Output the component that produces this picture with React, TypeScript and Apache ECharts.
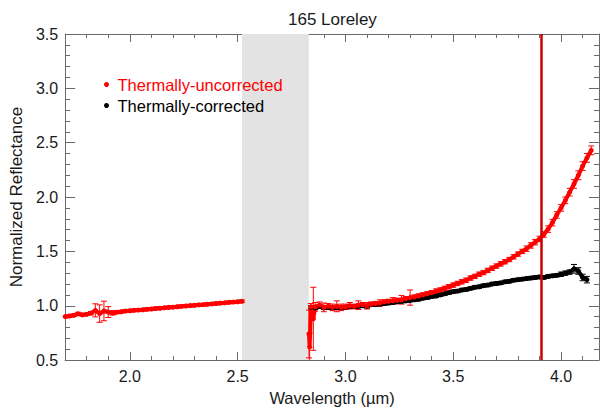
import React, { useEffect, useRef } from 'react';
import * as echarts from 'echarts';

const TITLE = '165 Loreley';
const X_NAME = 'Wavelength (µm)';
const Y_NAME = 'Normalized Reflectance';
const NAME_UNCORR = 'Thermally-uncorrected';
const NAME_CORR = 'Thermally-corrected';

const X_MIN = 1.7;
const X_MAX = 4.176;
const Y_MIN = 0.5;
const Y_MAX = 3.5;
const X_MAJOR = [2.0, 2.5, 3.0, 3.5, 4.0];
const X_MINOR = [1.8, 1.9, 2.1, 2.2, 2.3, 2.4, 2.6, 2.7, 2.8, 2.9, 3.1, 3.2, 3.3, 3.4, 3.6, 3.7, 3.8, 3.9, 4.1];

// masked telluric band and the spurious spike
const BAND = [2.52, 2.83];
const SPIKE_X = 3.906;

// [wavelength, reflectance, error]
const redSeg1: number[][] = [
  [1.70, 0.900, 0.012], [1.72, 0.906, 0.012], [1.74, 0.912, 0.012], [1.76, 0.926, 0.014],
  [1.78, 0.916, 0.012], [1.80, 0.921, 0.012], [1.82, 0.932, 0.015], [1.84, 0.958, 0.06],
  [1.86, 0.928, 0.08], [1.88, 0.952, 0.09], [1.90, 0.942, 0.05], [1.92, 0.934, 0.02],
  [1.94, 0.941, 0.014], [1.96, 0.945, 0.012], [1.98, 0.951, 0.012], [2.00, 0.954, 0.012],
  [2.02, 0.958, 0.012], [2.04, 0.960, 0.012], [2.06, 0.963, 0.012], [2.08, 0.967, 0.012],
  [2.10, 0.970, 0.012], [2.12, 0.975, 0.012], [2.14, 0.977, 0.012], [2.16, 0.981, 0.012],
  [2.18, 0.985, 0.012], [2.20, 0.987, 0.012], [2.22, 0.991, 0.012], [2.24, 0.995, 0.012],
  [2.26, 0.998, 0.012], [2.28, 1.001, 0.012], [2.30, 1.004, 0.012], [2.32, 1.008, 0.012],
  [2.34, 1.010, 0.012], [2.36, 1.014, 0.012], [2.38, 1.017, 0.012], [2.40, 1.021, 0.012],
  [2.42, 1.024, 0.012], [2.44, 1.027, 0.012], [2.46, 1.031, 0.012], [2.48, 1.034, 0.012],
  [2.50, 1.037, 0.012], [2.52, 1.041, 0.012],
];

const redSeg2: number[][] = [
  [2.831, 0.74, 0.22], [2.834, 0.62, 0.13], [2.84, 0.99, 0.03], [2.851, 0.88, 0.29],
  [2.86, 0.99, 0.04], [2.88, 1.005, 0.03], [2.90, 0.985, 0.04], [2.92, 0.995, 0.025],
  [2.94, 0.985, 0.03], [2.96, 0.995, 0.05], [2.98, 0.985, 0.03], [3.00, 0.99, 0.025],
  [3.02, 1.00, 0.03], [3.04, 0.995, 0.02], [3.06, 1.005, 0.04], [3.08, 1.01, 0.02],
  [3.10, 1.00, 0.03], [3.12, 1.015, 0.02], [3.14, 1.02, 0.02], [3.16, 1.025, 0.03],
  [3.18, 1.035, 0.02], [3.20, 1.04, 0.02], [3.22, 1.045, 0.03], [3.24, 1.05, 0.02],
  [3.26, 1.055, 0.04], [3.28, 1.065, 0.02], [3.30, 1.075, 0.07], [3.32, 1.08, 0.02],
  [3.34, 1.09, 0.02], [3.36, 1.10, 0.02], [3.38, 1.11, 0.02], [3.40, 1.12, 0.02],
  [3.42, 1.135, 0.02], [3.44, 1.145, 0.02], [3.46, 1.16, 0.02], [3.48, 1.175, 0.02],
  [3.50, 1.19, 0.02], [3.52, 1.205, 0.02], [3.54, 1.22, 0.02], [3.56, 1.235, 0.02],
  [3.58, 1.255, 0.02], [3.60, 1.27, 0.02], [3.62, 1.29, 0.02], [3.64, 1.305, 0.02],
  [3.66, 1.325, 0.02], [3.68, 1.345, 0.02], [3.70, 1.365, 0.02], [3.72, 1.385, 0.02],
  [3.74, 1.405, 0.02], [3.76, 1.425, 0.02], [3.78, 1.45, 0.02], [3.80, 1.475, 0.02],
  [3.82, 1.50, 0.02], [3.84, 1.525, 0.025], [3.86, 1.555, 0.025], [3.88, 1.585, 0.025],
  [3.90, 1.615, 0.025], [3.92, 1.655, 0.025], [3.94, 1.705, 0.03], [3.96, 1.765, 0.03],
  [3.98, 1.835, 0.03], [4.00, 1.90, 0.03], [4.02, 1.97, 0.03], [4.04, 2.045, 0.035],
  [4.06, 2.12, 0.04], [4.08, 2.20, 0.04], [4.10, 2.285, 0.04], [4.12, 2.36, 0.04],
  [4.14, 2.43, 0.04],
];

const blackSeg2: number[][] = [
  [2.84, 0.985, 0.015], [2.86, 0.98, 0.015], [2.88, 0.995, 0.015], [2.90, 0.98, 0.015],
  [2.92, 0.985, 0.015], [2.94, 0.98, 0.015], [2.96, 0.985, 0.015], [2.98, 0.98, 0.015],
  [3.00, 0.985, 0.015], [3.02, 0.995, 0.015], [3.04, 0.99, 0.015], [3.06, 0.995, 0.015],
  [3.08, 1.00, 0.015], [3.10, 0.995, 0.015], [3.12, 1.01, 0.015], [3.14, 1.01, 0.015],
  [3.16, 1.015, 0.015], [3.18, 1.02, 0.015], [3.20, 1.025, 0.015], [3.22, 1.03, 0.015],
  [3.24, 1.035, 0.015], [3.26, 1.04, 0.015], [3.28, 1.045, 0.015], [3.30, 1.05, 0.015],
  [3.32, 1.055, 0.015], [3.34, 1.06, 0.015], [3.36, 1.07, 0.015], [3.38, 1.075, 0.015],
  [3.40, 1.085, 0.015], [3.42, 1.09, 0.015], [3.44, 1.10, 0.015], [3.46, 1.11, 0.015],
  [3.48, 1.12, 0.015], [3.50, 1.13, 0.015], [3.52, 1.135, 0.015], [3.54, 1.145, 0.015],
  [3.56, 1.15, 0.015], [3.58, 1.16, 0.015], [3.60, 1.17, 0.015], [3.62, 1.175, 0.015],
  [3.64, 1.185, 0.015], [3.66, 1.19, 0.015], [3.68, 1.20, 0.015], [3.70, 1.205, 0.015],
  [3.72, 1.21, 0.015], [3.74, 1.22, 0.015], [3.76, 1.225, 0.015], [3.78, 1.235, 0.015],
  [3.80, 1.24, 0.015], [3.82, 1.245, 0.015], [3.84, 1.25, 0.015], [3.86, 1.255, 0.015],
  [3.88, 1.26, 0.015], [3.90, 1.265, 0.015], [3.92, 1.26, 0.015], [3.94, 1.27, 0.015],
  [3.96, 1.275, 0.015], [3.98, 1.28, 0.015], [4.00, 1.29, 0.02], [4.02, 1.30, 0.02],
  [4.04, 1.31, 0.02], [4.06, 1.34, 0.04], [4.08, 1.32, 0.03], [4.10, 1.26, 0.03],
  [4.12, 1.24, 0.03],
];

const FONT = 'Liberation Sans, Arial, Helvetica, sans-serif';
const AXIS_COLOR = '#6a6a6a';
const TEXT_COLOR = '#1a1a1a';
const RED = '#ff0000';
const BLACK = '#000000';

function errorSeries(data: number[][], color: string) {
  return {
    type: 'custom',
    name: 'err-' + color,
    data,
    clip: true,
    silent: true,
    encode: { x: 0, y: 1 },
    renderItem: (_params: any, api: any) => {
      const x = api.value(0);
      const y = api.value(1);
      const e = api.value(2);
      const hi = api.coord([x, y + e]);
      const lo = api.coord([x, y - e]);
      const w = 3;
      const style = { stroke: color, lineWidth: 1 };
      return {
        type: 'group',
        children: [
          { type: 'line', shape: { x1: hi[0], y1: hi[1], x2: lo[0], y2: lo[1] }, style },
          { type: 'line', shape: { x1: hi[0] - w, y1: hi[1], x2: hi[0] + w, y2: hi[1] }, style },
          { type: 'line', shape: { x1: lo[0] - w, y1: lo[1], x2: lo[0] + w, y2: lo[1] }, style },
        ],
      };
    },
  };
}

function lineSeries(name: string, data: number[][], color: string, extra: any = {}) {
  return {
    type: 'line',
    name,
    data: data.map((d) => [d[0], d[1]]),
    color,
    symbol: 'circle',
    symbolSize: 5,
    showSymbol: true,
    lineStyle: { width: 4, color },
    itemStyle: { color },
    silent: true,
    ...extra,
  };
}

function xAxisDef(position: string, major: boolean, labels: boolean) {
  return {
    type: 'value',
    position,
    min: X_MIN,
    max: X_MAX,
    axisLine: { show: major, onZero: false, lineStyle: { color: AXIS_COLOR, width: 1 } },
    axisTick: {
      show: true,
      inside: true,
      length: major ? 8 : 4,
      customValues: major ? X_MAJOR : X_MINOR,
      lineStyle: { color: AXIS_COLOR },
    },
    axisLabel: labels
      ? {
          show: true,
          customValues: X_MAJOR,
          formatter: (v: number) => v.toFixed(1),
          margin: 8,
          fontSize: 16,
          fontFamily: FONT,
          color: TEXT_COLOR,
        }
      : { show: false },
    splitLine: { show: false },
    ...(labels
      ? {
          name: X_NAME,
          nameLocation: 'middle',
          nameGap: 24,
          nameTextStyle: { fontSize: 16.5, fontFamily: FONT, color: TEXT_COLOR },
        }
      : {}),
  };
}

function yAxisDef(position: string, labels: boolean) {
  return {
    type: 'value',
    position,
    min: Y_MIN,
    max: Y_MAX,
    interval: 0.5,
    axisLine: { show: true, onZero: false, lineStyle: { color: AXIS_COLOR, width: 1 } },
    axisTick: { show: true, inside: true, length: 10, lineStyle: { color: AXIS_COLOR } },
    minorTick: { show: true, splitNumber: 5, length: 5, lineStyle: { color: AXIS_COLOR } },
    axisLabel: labels
      ? {
          show: true,
          formatter: (v: number) => v.toFixed(1),
          margin: 7,
          fontSize: 16,
          fontFamily: FONT,
          color: TEXT_COLOR,
        }
      : { show: false },
    splitLine: { show: false },
    minorSplitLine: { show: false },
    ...(labels
      ? {
          name: Y_NAME,
          nameLocation: 'middle',
          nameRotate: 90,
          nameGap: 37,
          nameTextStyle: { fontSize: 17, fontFamily: FONT, color: TEXT_COLOR },
        }
      : {}),
  };
}

export default function App() {
  const ref = useRef<HTMLDivElement>(null);
  useEffect(() => {
    const chart = echarts.init(ref.current!, null, { renderer: 'svg' });
    const option: any = {
      animation: false,
      backgroundColor: '#ffffff',
      title: {
        text: TITLE,
        left: 283,
        top: 6,
        textStyle: { fontSize: 17, fontWeight: 'normal', fontFamily: FONT, color: TEXT_COLOR },
      },
      legend: {
        orient: 'vertical',
        left: 99,
        top: 71,
        icon: 'circle',
        itemWidth: 12,
        itemHeight: 5,
        itemGap: 4,
        selectedMode: false,
        textStyle: { fontSize: 16.5, fontFamily: FONT },
        data: [
          { name: NAME_UNCORR, textStyle: { color: RED } },
          { name: NAME_CORR, textStyle: { color: BLACK } },
        ],
      },
      grid: { left: 62, right: 1, top: 34, bottom: 49, containLabel: false },
      xAxis: [
        xAxisDef('bottom', true, true),
        xAxisDef('top', true, false),
        xAxisDef('bottom', false, false),
        xAxisDef('top', false, false),
      ],
      yAxis: [yAxisDef('left', true), yAxisDef('right', false)],
      series: [
        lineSeries(NAME_CORR, blackSeg2, BLACK, {
          markArea: {
            silent: true,
            itemStyle: { color: '#e3e3e3' },
            data: [[{ xAxis: BAND[0] }, { xAxis: BAND[1] }]],
          },
        }),
        errorSeries(blackSeg2, BLACK),
        lineSeries(NAME_UNCORR, redSeg1, RED),
        lineSeries(NAME_UNCORR, redSeg2, RED, {
          markLine: {
            silent: true,
            symbol: ['none', 'none'],
            label: { show: false },
            lineStyle: { color: '#cc0000', width: 2.5, type: 'solid' },
            data: [{ xAxis: SPIKE_X }],
          },
        }),
        errorSeries(redSeg1.concat(redSeg2), RED),
      ],
    };
    chart.setOption(option);
    return () => chart.dispose();
  }, []);
  return (
    <div
      ref={ref}
      style={{ position: 'absolute', left: 0, top: 0, width: 600, height: 411 }}
    />
  );
}
